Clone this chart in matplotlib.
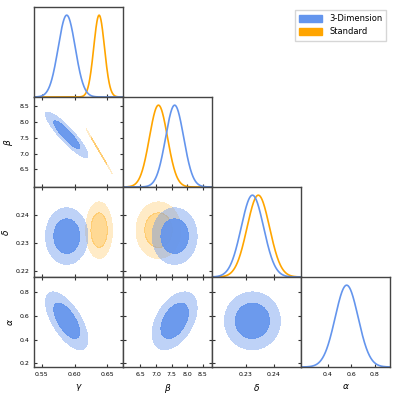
import numpy as np
import matplotlib as mpl
mpl.use('Agg')
import matplotlib.pyplot as plt
from matplotlib.patches import Patch

# parameters shown in the triangle plot
labels = [r'$\gamma$', r'$\beta$', r'$\delta$', r'$\alpha$']
limits = [(0.538, 0.674), (5.94, 8.80), (0.218, 0.2497), (0.17, 0.93)]
ticks = [[0.55, 0.60, 0.65], [6.5, 7.0, 7.5, 8.0, 8.5], [0.22, 0.23, 0.24], [0.2, 0.4, 0.6, 0.8]]
xticks_bottom = [[0.55, 0.60, 0.65], [6.5, 7.0, 7.5, 8.0, 8.5], [0.23, 0.24], [0.4, 0.6, 0.8]]
fmts = ['%.2f', '%.1f', '%.2f', '%.1f']

# 3-Dimension chain (gamma, beta, delta, alpha)
mean_3d = [0.588, 7.60, 0.2324, 0.560]
sigma_3d = [0.013, 0.29, 0.0040, 0.098]
corr_3d = [[1.00, -0.90, 0.00, -0.65],
           [-0.90, 1.00, 0.00, 0.45],
           [0.00, 0.00, 1.00, 0.00],
           [-0.65, 0.45, 0.00, 1.00]]

# Standard chain (gamma, beta, delta)
mean_std = [0.6375, 7.08, 0.2345]
sigma_std = [0.0082, 0.29, 0.0040]
corr_std = [[1.00, -0.9996, 0.00],
            [-0.9996, 1.00, 0.00],
            [0.00, 0.00, 1.00]]

blue = '#6495ED'
orange = '#FFA500'
n = 4

fig, axes = plt.subplots(n, n, figsize=(3.99, 3.99), dpi=100)
fig.subplots_adjust(left=0.0852, right=0.9774, bottom=0.0802, top=0.9825, wspace=0, hspace=0)


def gauss2d(mx, my, sx, sy, rho, lx, ly):
    x = np.linspace(lx[0], lx[1], 500)
    y = np.linspace(ly[0], ly[1], 500)
    X, Y = np.meshgrid(x, y)
    u = (X - mx) / sx
    v = (Y - my) / sy
    chi2 = (u * u - 2 * rho * u * v + v * v) / (1 - rho * rho)
    return X, Y, np.exp(-0.5 * chi2)


lev = [np.exp(-0.5 * 6.18), np.exp(-0.5 * 2.30), 1.01]

for i in range(n):
    for j in range(n):
        ax = axes[i, j]
        if j > i:
            ax.axis('off')
            continue
        for s in ax.spines.values():
            s.set_color('#444444')
            s.set_linewidth(1.0)
        ax.set_xlim(limits[j])
        if i == j:
            x = np.linspace(limits[i][0], limits[i][1], 400)
            if i < len(mean_std):
                ax.plot(x, np.exp(-0.5 * ((x - mean_std[i]) / sigma_std[i]) ** 2), color=orange, lw=1.2)
            ax.plot(x, np.exp(-0.5 * ((x - mean_3d[i]) / sigma_3d[i]) ** 2), color=blue, lw=1.2)
            ax.set_ylim(0, 1.1)
            ax.set_yticks([])
            ax.tick_params(axis='x', direction='in', length=2.5, width=0.8, colors='#333333',
                           labelsize=4.5, labelcolor='black')
        else:
            if i < len(mean_std) and j < len(mean_std):
                X, Y, Z = gauss2d(mean_std[j], mean_std[i], sigma_std[j], sigma_std[i],
                                  corr_std[i][j], limits[j], limits[i])
                ax.contourf(X, Y, Z, levels=lev, colors=[(1, 0.647, 0, 0.22), (1, 0.647, 0, 0.42)])
            X, Y, Z = gauss2d(mean_3d[j], mean_3d[i], sigma_3d[j], sigma_3d[i],
                              corr_3d[i][j], limits[j], limits[i])
            ax.contourf(X, Y, Z, levels=lev, colors=[(0.392, 0.584, 0.929, 0.42), (0.392, 0.584, 0.929, 0.95)])
            ax.set_ylim(limits[i])
            ax.set_yticks(ticks[i])
            ax.tick_params(direction='in', length=2.5, width=0.8, colors='#333333', top=True, right=True,
                           labelsize=4.5, labelcolor='black')
            if j == 0:
                ax.set_yticklabels([fmts[i] % t for t in ticks[i]])
                ax.set_ylabel(labels[i], fontsize=6.5, labelpad=3)
            else:
                ax.set_yticklabels([])
        if i == n - 1:
            ax.set_xticks(xticks_bottom[j])
            ax.set_xticklabels([fmts[j] % t for t in xticks_bottom[j]])
            ax.set_xlabel(labels[j], fontsize=6.5, labelpad=4)
        else:
            ax.set_xticks(xticks_bottom[j])
            ax.set_xticklabels([])

handles = [Patch(color=blue, label='3-Dimension'), Patch(color=orange, label='Standard')]
fig.legend(handles=handles, loc='upper right', bbox_to_anchor=(0.979, 0.985), fontsize=6,
           fancybox=False, edgecolor='#cccccc', handlelength=2.8, handleheight=0.9,
           borderpad=0.5)

fig.savefig('out.png', dpi=100)
